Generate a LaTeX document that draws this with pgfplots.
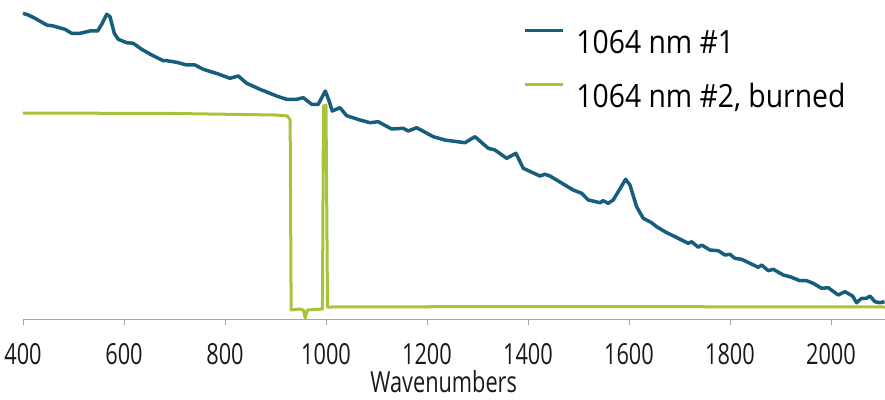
\documentclass[border=0pt]{standalone}
\usepackage{fontspec}
\setmainfont{Open Sans}
\newfontfamily\tickfont[FakeStretch=0.75]{Open Sans}
\newfontfamily\legfont[FakeStretch=0.885]{Open Sans}
\usepackage{pgfplots}
\pgfplotsset{compat=1.18}
\definecolor{cblue}{RGB}{23,94,125}
\definecolor{cgreen}{RGB}{166,196,58}
\begin{document}
\begin{tikzpicture}
\begin{axis}[
  at={(0,0)}, anchor=south west,
  scale only axis, width=862pt, height=319pt,
  xmin=400, xmax=2107, ymin=0, ymax=319,
  axis x line=bottom, axis y line=none,
  x axis line style={-, draw=gray!70, line width=0.8pt},
  xtick={400,600,...,2000},
  tick align=outside, major tick length=6pt,
  xtick style={draw=gray!70, line width=0.8pt},
  /pgf/number format/assume math mode=true,
  /pgf/number format/1000 sep={},
  xticklabel style={font=\tickfont\fontsize{29}{29}\selectfont, inner sep=0pt, anchor=north, yshift=-18pt, text=black!90},
  xlabel={Wavenumbers},
  xlabel style={font=\tickfont\fontsize{29}{29}\selectfont, inner sep=0pt, at={(rel axis cs:0.488,0)}, anchor=base, yshift=-73pt, text=black!90},
  clip=false,
  legend style={draw=none, fill=none, at={(rel axis cs:0.58,0.91)}, anchor=north west, inner sep=0pt,
     font=\legfont\fontsize{32}{32}\selectfont, row sep=30pt,
     nodes={inner sep=0pt, text depth=0pt}},
  legend cell align=left,
  reverse legend,
  /tikz/every odd column/.append style={column sep=12pt},
  legend image code/.code={\draw[#1, line width=3.3pt] (0pt,11pt) -- (38pt,11pt);},
]
\addplot[cgreen, line width=3pt, line join=round] coordinates {
(400,206) (700,205.5) (900,204) (924,203) (929,199) (931,9) (948,10) (955,9)
(959,1) (963,9) (993,10) (995,213) (1000,214) (1003,12) (1010,12) (1400,12.5) (2107,12)
};
\addlegendentry{1064 nm \#2, burned}
\addplot[cblue, line width=3.5pt, line join=round] coordinates {
(400,305.7) (410.5,304) (423.8,300.7) (446.9,294) (460,293) (483.2,289.7) (496.4,285.7)
(512.9,285.7) (532.7,288) (547.9,288) (557,295.7) (565.7,304.7) (572.3,302.3) (580.8,285.7)
(588.7,279.7) (605.3,276.3) (618.4,275.7) (635,269.7) (654.8,264) (677.8,258.3) (684.5,258.3)
(704.3,256.7) (724.1,254) (740.6,254) (757,249.7) (786.7,245) (809.9,240.7) (826.3,243)
(842.9,235.7) (869.3,229.7) (902.3,223) (922.1,219.7) (941.9,219.7) (955,221.3) (971.6,214.7)
(984.7,214.7) (998.6,228) (1005.5,219) (1012.4,208) (1027.7,211.3) (1040.9,203.3) (1067.3,199)
(1087.1,196.3) (1103.5,197.3) (1130,190) (1153,190.7) (1162.9,188) (1179.5,191.3) (1212.4,182.3)
(1235.6,179) (1245.5,178.3) (1275.2,176.3) (1295,182.3) (1321.3,170.7) (1334.6,169) (1357.7,160.7)
(1376.1,165.7) (1390.6,150.7) (1423.7,143) (1433.6,144.7) (1443.5,143) (1469.8,135) (1489.6,129)
(1506.2,125.7) (1519.3,119) (1526,118.3) (1542.5,116.3) (1549,118.3) (1558.9,115.7) (1568.8,119)
(1578.7,127.3) (1593.3,139.7) (1601.9,134) (1615.1,112.3) (1628.2,100.7) (1644.8,96.3) (1654.7,92.3)
(1671.2,87.3) (1697.5,80.7) (1717.3,75.7) (1724.1,77.3) (1737.1,71.7) (1743.9,74) (1760.3,69)
(1776.8,68.3) (1790,64) (1799.9,64.7) (1809.8,60.7) (1823.1,59.7) (1839.5,55.7) (1856,51.7)
(1862.7,54) (1875.8,48.3) (1885.7,49.7) (1905.5,44) (1918.7,42.3) (1938.5,38.3) (1951.8,38.3)
(1964.8,35.7) (1981.4,30.7) (1994.5,31.3) (2014.3,24) (2027.6,27.3) (2042.8,23) (2050.7,16.3)
(2060.6,20.7) (2070.5,20.7) (2077.1,23) (2087,17.3) (2096.9,16.3) (2106,17.3)
};
\addlegendentry{1064 nm \#1}
\end{axis}
\pgfresetboundingbox
\path (-23pt,-80pt) rectangle (862pt,319pt);
\end{tikzpicture}
\end{document}
